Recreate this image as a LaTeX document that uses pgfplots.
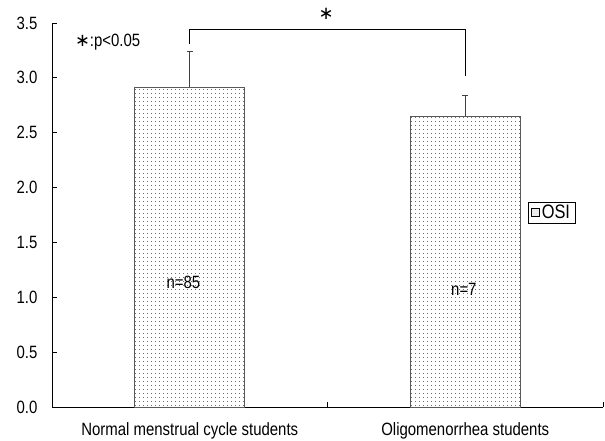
\documentclass[border=0pt]{standalone}
\usepackage{fontspec}
\setmainfont{Liberation Sans}[FakeStretch=0.84]
\newfontfamily\dv{DejaVu Sans}
\usepackage{pgfplots}
\pgfplotsset{compat=1.18}
\usetikzlibrary{patterns.meta}
\newcommand\fa{\fontsize{17.8}{19}\selectfont}
\begin{document}
\begin{tikzpicture}
\begin{axis}[
  scale only axis, width=551pt, height=384pt,
  at={(0,0)}, anchor=origin,
  xmin=0, xmax=2, ymin=0, ymax=3.5,
  axis x line=bottom, axis y line=left,
  axis line style={-, line width=1pt},
  xtick={0,1,2}, xticklabels={},
  ytick={0,0.5,...,3.5},
  yticklabel style={/pgf/number format/fixed, /pgf/number format/fixed zerofill, /pgf/number format/precision=1, font=\fa, xshift=-11pt},
  /pgf/number format/assume math mode=true,
  tick align=inside, major tick length=5pt,
  tick style={line width=1pt, black},
  clip=false,
  legend style={at={(0.864,0.534)}, anchor=north west, draw=black, line width=0.7pt, inner ysep=1pt, inner xsep=3pt, legend cell align=left},
  legend image code/.code={\draw[pattern={Dots[distance=2pt,radius=0.35pt]}, draw=black, line width=0.4pt] (0cm,-0.13cm) rectangle (0.28cm,0.15cm);},
]
\addplot[ybar, bar width=110pt, draw=gray!70!black, line width=0.8pt,
  pattern={Dots[distance=4pt, radius=0.45pt]}, pattern color=black,
  error bars/.cd, y dir=plus, y explicit,
  error bar style={line width=0.8pt, black!75},
  error mark options={rotate=90, mark size=3pt, line width=0.8pt}]
  coordinates {(0.5,2.917) +- (0,0.328) (1.5,2.65) +- (0,0.19)};
\addlegendentry{\fontsize{19.5}{20}\selectfont OSI}
\draw[line width=1pt] (axis cs:0.5,3.31) -- (axis cs:0.5,3.44) -- (axis cs:1.5,3.44) -- (axis cs:1.5,3.02);
\node[font=\fontsize{18}{18}\selectfont\dv] at (axis cs:0.995,3.585) {∗};
\node[anchor=west, font=\fa, inner sep=0pt] at (axis cs:0.083,3.33) {{\dv ∗}:p<0.05};
\node[font=\fa] at (axis cs:0.477,1.14) {n=85};
\node[font=\fa] at (axis cs:1.495,1.075) {n=7};
\node[font=\fa] at (axis cs:0.5,-0.22) {Normal menstrual cycle students};
\node[font=\fa] at (axis cs:1.5,-0.22) {Oligomenorrhea students};
\end{axis}
\pgfresetboundingbox
\path[use as bounding box] (-52pt,-33pt) rectangle (553pt,407pt);
\end{tikzpicture}
\end{document}
